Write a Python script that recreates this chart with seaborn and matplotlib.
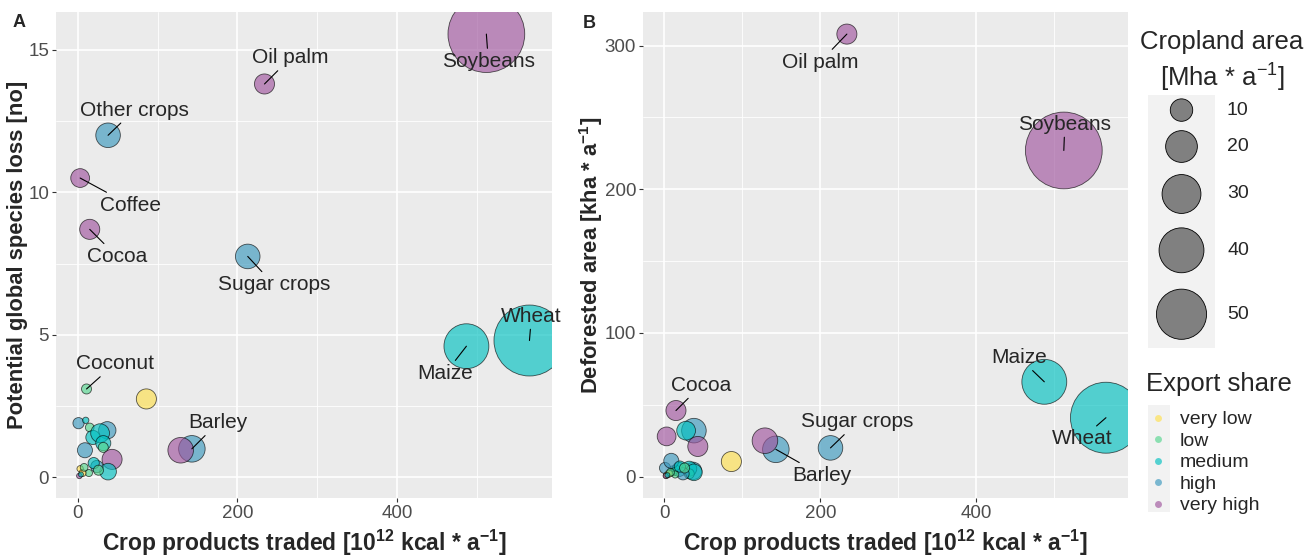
import numpy as np
import pandas as pd
import matplotlib.pyplot as plt
from matplotlib.lines import Line2D
from matplotlib.patches import Rectangle
from matplotlib.ticker import MultipleLocator
import seaborn as sns

# crops (None = not labelled in the figure)
crop = ['Soybeans', 'Wheat', 'Maize', 'Oil palm', 'Other crops', 'Coffee', 'Cocoa',
        'Sugar crops', 'Coconut', 'Barley', None, None,
        None, None, None, None, None, None, None, None, None, None,
        None, None, None, None, None, None, None, None, None, None]
# crop products traded [10^12 kcal / a]
traded = [512, 566, 487, 234, 38, 3, 15, 213, 11, 143, 129, 86,
          1, 10, 15, 37, 19, 28, 32, 9, 32, 43, 38, 24, 14, 3, 6, 2, 8, 4, 20, 26]
# potential global species loss [no]
species_loss = [15.55, 4.8, 4.6, 13.8, 12.0, 10.5, 8.7, 7.75, 3.1, 1.0, 0.95, 2.75,
                1.9, 2.0, 1.75, 1.65, 1.4, 1.55, 1.2, 0.95, 1.05, 0.63, 0.2, 0.38,
                0.15, 0.3, 0.15, 0.05, 0.35, 0.1, 0.5, 0.25]
# deforested area [kha / a]
deforested = [227, 41, 66, 308, 32, 28, 46, 20, 4, 19, 25, 10.5,
              6, 3, 5, 4, 5, 32, 5.5, 11, 2, 21, 3, 2,
              1.5, 1, 2, 0.5, 3, 1, 7, 6]
# cropland area [Mha / a]
cropland_area = [117, 100, 40, 8, 12, 7, 8, 12, 2, 14, 13, 8,
                 2.5, 0.8, 1.5, 6, 4, 7, 4.5, 4.5, 2, 8, 5.5, 3,
                 1, 0.8, 1, 0.6, 1.2, 0.5, 2.5, 2]
export_share = ['very high', 'medium', 'medium', 'very high', 'high', 'very high', 'very high',
                'high', 'low', 'high', 'very high', 'very low',
                'high', 'medium', 'low', 'high', 'medium', 'medium', 'medium', 'high',
                'low', 'very high', 'medium', 'high', 'low', 'very low', 'very low',
                'very high', 'low', 'medium', 'medium', 'low']

share_levels = ['very low', 'low', 'medium', 'high', 'very high']
legend_areas = [10, 20, 30, 40, 50]

df = pd.DataFrame({'crop': crop, 'traded': traded, 'loss': species_loss,
                   'deforested': deforested, 'area': cropland_area, 'share': export_share})

share_colors = ['#FFE04D', '#55D68F', '#00C0C0', '#3A98BE', '#A0559E']
palette = dict(zip(share_levels, share_colors))
alpha = 0.65
size_scale = 26.1  # points^2 per Mha

sns.set_theme(style='darkgrid', rc={
    'axes.facecolor': '#EBEBEB', 'grid.color': 'white', 'axes.edgecolor': 'none',
    'xtick.bottom': True, 'ytick.left': True,
})
plt.rcParams['font.family'] = ['Liberation Sans', 'DejaVu Sans']
plt.rcParams['mathtext.fontset'] = 'custom'
plt.rcParams['mathtext.rm'] = 'Liberation Sans'
plt.rcParams['mathtext.bf'] = 'Liberation Sans:bold'
plt.rcParams['mathtext.default'] = 'regular'

W, H = 1314, 559
fig = plt.figure(figsize=(W / 100, H / 100), dpi=100)
axA = fig.add_axes([56 / W, 61 / H, 496 / W, 486 / H])
axB = fig.add_axes([643 / W, 61 / H, 485 / W, 486 / H])

px = 0.72  # pixels -> points
offsets_A = {'Soybeans': (2, -27), 'Oil palm': (26, 26), 'Other crops': (26, 25),
             'Coffee': (50, -27), 'Cocoa': (27, -27), 'Sugar crops': (26, -28),
             'Wheat': (2, 24), 'Maize': (-21, -27), 'Coconut': (28, 25), 'Barley': (26, 26)}
offsets_B = {'Oil palm': (-27, -28), 'Soybeans': (1, 26), 'Maize': (-25, 24),
             'Wheat': (-24, -21), 'Cocoa': (25, 25), 'Sugar crops': (27, 26),
             'Barley': (46, -26)}


def expand(v):
    lo, hi = min(v), max(v)
    pad = (hi - lo) * 0.05
    return lo - pad, hi + pad


def panel(ax, ycol, ylabel, offsets, ymajor):
    sns.scatterplot(data=df, x='traded', y=ycol, hue='share', hue_order=share_levels,
                    palette=palette, size='area', size_norm=(0, 150),
                    sizes=(0, size_scale * 150), alpha=alpha, edgecolor='black',
                    linewidth=0.6, legend=False, ax=ax)
    ax.set_xlim(expand(df['traded']))
    ax.set_ylim(expand(df[ycol]))
    ax.xaxis.set_major_locator(MultipleLocator(200))
    ax.xaxis.set_minor_locator(MultipleLocator(100))
    ax.yaxis.set_major_locator(MultipleLocator(ymajor))
    ax.yaxis.set_minor_locator(MultipleLocator(ymajor / 2))
    ax.grid(which='major', color='white', lw=1.2)
    ax.grid(which='minor', color='white', lw=0.6)
    ax.tick_params(which='major', length=3, width=0.8, color='#333333',
                   labelsize=13.5, labelcolor='#4D4D4D', pad=2)
    ax.tick_params(which='minor', length=0)
    ax.set_xlabel(r'Crop products traded [$\mathbf{10^{12}}$ kcal * a$^{\mathbf{-1}}$]',
                  fontsize=16.5, fontweight='bold', labelpad=4)
    ax.set_ylabel(ylabel, fontsize=15.8, fontweight='bold', labelpad=0)
    for name, (dx, dy) in offsets.items():
        row = df[df['crop'] == name].iloc[0]
        ax.annotate(name, xy=(row['traded'], row[ycol]), xytext=(dx * px, dy * px),
                    textcoords='offset points', ha='center', va='center', fontsize=15,
                    arrowprops=dict(arrowstyle='-', color='black', lw=0.8,
                                    shrinkA=0, shrinkB=0))


panel(axA, 'loss', 'Potential global species loss [no]', offsets_A, 5)
panel(axB, 'deforested', r'Deforested area [kha * a$^{\mathbf{-1}}$]', offsets_B, 100)
fig.text(13 / W, 1 - 14 / H, 'A', fontsize=13, fontweight='bold', va='top', ha='left')
fig.text(583 / W, 1 - 15 / H, 'B', fontsize=13, fontweight='bold', va='top', ha='left')

# size legend: keys stacked in a grey column, key height grows with circle diameter
fig.text(1222 / W, 1 - 42 / H, 'Cropland area', fontsize=18.5, ha='center', va='center')
fig.text(1222 / W, 1 - 78 / H, '[Mha * a$^{-1}$]', fontsize=18.5, ha='center', va='center')
diam_px = np.sqrt(size_scale * np.array(legend_areas)) * 100 / 72
key_h = 1.345 * diam_px
centers = np.cumsum(key_h) - key_h / 2
box_h = key_h.sum()
axL = fig.add_axes([1148 / W, 1 - (95 + box_h) / H, 67 / W, box_h / H])
axL.set_facecolor('#F2F2F2')
axL.grid(False)
axL.set_xticks([])
axL.set_yticks([])
axL.set_xlim(0, 67)
axL.set_ylim(box_h, 0)
axL.scatter(np.full(len(legend_areas), 33.5), centers, s=size_scale * np.array(legend_areas),
            color='#808080', edgecolor='black', linewidth=0.6, clip_on=False)
for c, a in zip(centers, legend_areas):
    axL.text(79, c, str(a), fontsize=14, va='center', ha='left', clip_on=False)

# export share legend
fig.text(1146 / W, 1 - 384 / H, 'Export share', fontsize=18.5, ha='left', va='center')
share_handles = [Line2D([], [], ls='none', marker='o', markersize=5,
                        markerfacecolor=c, markeredgecolor='none', alpha=alpha)
                 for c in share_colors]
leg2 = fig.legend(share_handles, share_levels, fontsize=14, loc='upper left',
                  bbox_to_anchor=(1137 / W, 1 - 401 / H), frameon=False,
                  handlelength=1.2, labelspacing=0.2, handletextpad=0.5, borderpad=0)
fig.add_artist(Rectangle((1148 / W, 1 - 512 / H), 22 / W, 107 / H,
                         transform=fig.transFigure, facecolor='#F2F2F2',
                         edgecolor='none', zorder=-1))

fig.savefig('out.png', dpi=100)
